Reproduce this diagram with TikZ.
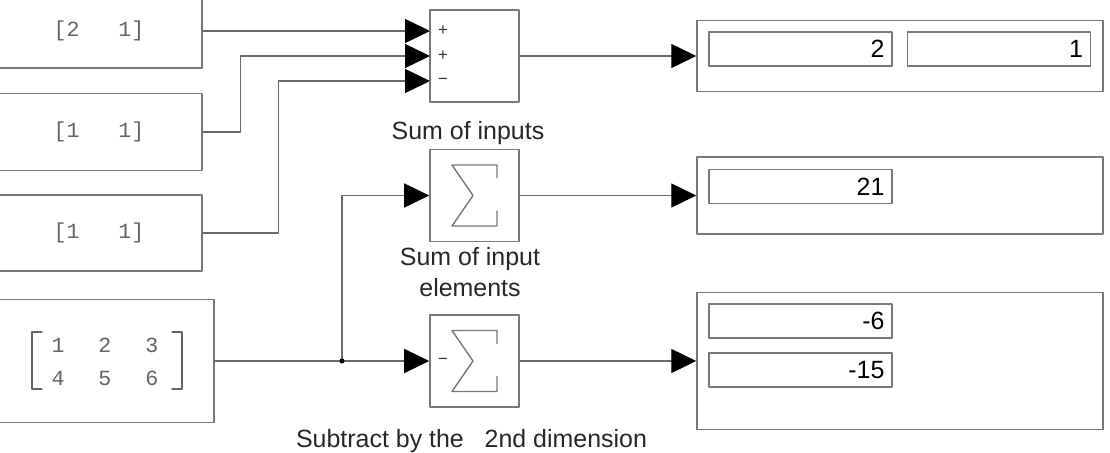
\documentclass[tikz,border=0pt]{standalone}
\usepackage{fontspec}
\setmainfont{Liberation Sans}
\setmonofont{Liberation Mono}
\usetikzlibrary{arrows.meta}
\definecolor{wiregray}{RGB}{105,105,105}
\definecolor{boxgray}{RGB}{120,120,120}
\definecolor{constgray}{RGB}{100,100,100}

\begin{document}
\begin{tikzpicture}[x=0.02cm,y=-0.02cm,line cap=round,line join=round,
  blk/.style={draw=boxgray,line width=0.9pt,inner sep=0pt,fill=white},
  consttxt/.style={inner sep=0pt,font=\ttfamily\fontsize{12.3}{18.8}\selectfont,text=constgray,align=center},
  constblk/.style={blk,consttxt},
  field/.style={blk,minimum width=3.66cm,minimum height=0.68cm,text width=3.36cm,inner xsep=0.15cm,align=right,font=\fontsize{14.2}{17}\selectfont},
  wire/.style={draw=wiregray,line width=0.8pt},
  sig/.style={wire,-{Triangle[length=0.5cm,width=0.48cm,color=black]}},
  lbl/.style={inner sep=0pt,font=\fontsize{14.2}{17.6}\selectfont,text=black!85,align=center},
  sgn/.style={inner sep=0pt,font=\fontsize{9.5}{10}\selectfont,text=black!80},
  sigmasym/.pic={\draw[draw=boxgray,line width=0.8pt] (22.5,-17.5) -- (22.5,-30.5) -- (-22.5,-30.5) -- (-1.5,0) -- (-22.5,30.5) -- (22.5,30.5) -- (22.5,15.5);}]
  \useasboundingbox (0,0) rectangle (1110,453);
  % sources
  \node[constblk,minimum width=4.12cm,minimum height=1.48cm] (c1) at (99,31) {[2~~~1]};
  \node[constblk,minimum width=4.12cm,minimum height=1.54cm] (c2) at (99,132) {[1~~~1]};
  \node[constblk,minimum width=4.12cm,minimum height=1.52cm] (c3) at (99,233) {[1~~~1]};
  \node[constblk,minimum width=4.36cm,minimum height=2.46cm] (c4) at (105,361) {};
  \node[consttxt] (mtx) at (105,361.5) {1\hspace{0.68cm}2\hspace{0.68cm}3\\4\hspace{0.68cm}5\hspace{0.68cm}6};
  \draw[constgray,line width=0.7pt] (42,332) -- (32,332) -- (32,389) -- (42,389);
  \draw[constgray,line width=0.7pt] (172,332) -- (182,332) -- (182,389) -- (172,389);
  % sum blocks
  \node[blk,minimum width=1.78cm,minimum height=1.84cm] (s1) at (474.5,56) {};
  \node[blk,minimum width=1.78cm,minimum height=1.84cm] (s2) at (474.5,195.5) {};
  \node[blk,minimum width=1.78cm,minimum height=1.84cm] (s3) at (474.5,361) {};
  \pic at (s2) {sigmasym};
  \pic at (s3) {sigmasym};
  \node[sgn] (pl1) at (443,31) {+};
  \node[sgn] (pl2) at (443,56) {+};
  \node[sgn] (mi1) at (443,81) {−};
  \node[sgn] (mi2) at (443,361) {−};
  % displays
  \node[blk,minimum width=8.12cm,minimum height=1.42cm] (d1) at (900,56) {};
  \node[blk,minimum width=8.12cm,minimum height=1.54cm] (d2) at (900,195.5) {};
  \node[blk,minimum width=8.12cm,minimum height=2.74cm] (d3) at (900,361) {};
  \node[field] (f1a) at (800.5,49) {2};
  \node[field] (f1b) at (999,49) {1};
  \node[field] (f2) at (800.5,186.5) {21};
  \node[field] (f3a) at (800.5,321) {-6};
  \node[field] (f3b) at (800.5,370) {-15};
  % ports
  \coordinate (s1a) at (430,31);
  \coordinate (s1b) at (430,56);
  \coordinate (s1c) at (430,81);
  \coordinate (jn) at (342,361);
  % wires
  \draw[sig] (c1.east) -- (s1a);
  \draw[sig] (c2.east) -- ++(38,0) |- (s1b);
  \draw[sig] (c3.east) -- ++(76,0) |- (s1c);
  \draw[sig] (c4.east) -- (s3.west);
  \draw[sig] (jn) |- (s2.west);
  \fill (jn) circle (0.05cm);
  \draw[sig] (s1.east) -- (d1.west);
  \draw[sig] (s2.east) -- (d2.west);
  \draw[sig] (s3.east) -- (d3.west);
  % labels
  \node[lbl,anchor=base] (t1) at (468,139) {Sum of inputs};
  \node[lbl,anchor=north] (t2) at (470,247) {Sum of input\\elements};
  \node[lbl,anchor=base] (t3) at (471.5,447) {Subtract by the~~~2nd dimension};
\end{tikzpicture}
\end{document}
